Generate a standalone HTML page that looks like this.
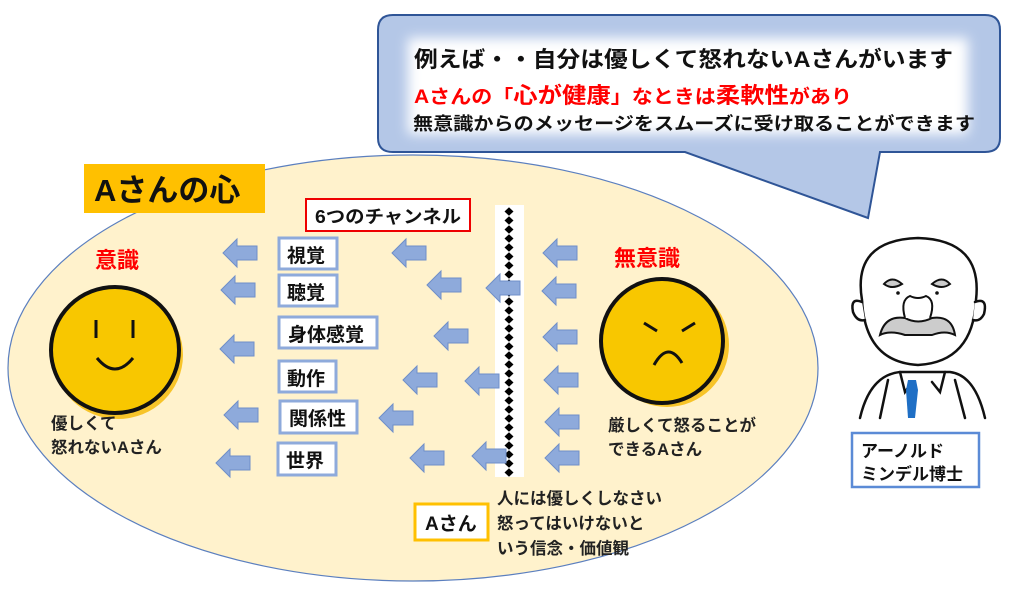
<!DOCTYPE html>
<html><head><meta charset="utf-8"><style>
html,body{margin:0;padding:0;background:#fff;}
svg{display:block;}
text{font-family:"Liberation Sans","Noto Sans CJK JP",sans-serif;}
</style></head><body>
<svg width="1024" height="600" viewBox="0 0 1024 600" xmlns="http://www.w3.org/2000/svg">
<defs>
<pattern id="dia" x="494" y="207" width="30" height="9" patternUnits="userSpaceOnUse">
<polygon points="15,0.3 19.5,4.5 15,8.7 10.5,4.5" fill="#000"/>
</pattern>
<filter id="blur" x="-10%" y="-30%" width="120%" height="160%"><feGaussianBlur stdDeviation="6"/></filter>
<path id="ar" d="M0,0 L14,-14 L14,-7 L34,-7 L34,7 L14,7 L14,14 Z" fill="#8eaadb" stroke="#6f8fc8" stroke-width="1"/>
</defs>

<ellipse cx="413" cy="368" rx="405" ry="213" fill="#fff2cc" stroke="#5b7fbf" stroke-width="1.2"/>

<path d="M393,15 H985 Q1000,15 1000,30 V138 Q1000,152 985,152 H880 L868,218 L685,152 H393 Q378,152 378,138 V30 Q378,15 393,15 Z" fill="#b4c7e7" stroke="#2f5597" stroke-width="2"/>
<rect x="408" y="38" width="560" height="96" fill="#fff" filter="url(#blur)"/>
<text x="414" y="67" font-size="22" font-weight="bold" fill="#111" textLength="539" lengthAdjust="spacingAndGlyphs">例えば・・自分は優しくて怒れないAさんがいます</text>
<text x="414" y="103" font-size="19" font-weight="bold" fill="#ff0000" textLength="438" lengthAdjust="spacingAndGlyphs">Aさんの「<tspan font-size="22">心が健康</tspan>」なときは<tspan font-size="22">柔軟性</tspan>があり</text>
<text x="413" y="130" font-size="18" font-weight="bold" fill="#111" textLength="562" lengthAdjust="spacingAndGlyphs">無意識からのメッセージをスムーズに受け取ることができます</text>

<rect x="84" y="164" width="181" height="49" fill="#ffc000"/>
<text x="94" y="201" font-size="31" font-weight="bold" fill="#111">Aさんの心</text>

<rect x="306" y="199" width="164" height="32" fill="#fff" stroke="#e00" stroke-width="2"/>
<text x="315" y="223" font-size="18" font-weight="bold" fill="#111" textLength="146" lengthAdjust="spacingAndGlyphs">6つのチャンネル</text>

<rect x="495" y="205" width="29" height="272" fill="#fff"/>
<rect x="495" y="207" width="29" height="270" fill="url(#dia)"/>

<g fill="#fff" stroke="#8eaadb" stroke-width="3">
<rect x="279" y="238" width="58" height="31"/>
<rect x="279" y="275" width="58" height="31"/>
<rect x="279" y="317" width="98" height="31"/>
<rect x="279" y="361" width="57" height="31"/>
<rect x="280" y="401" width="77" height="32"/>
<rect x="278" y="443" width="58" height="32"/>
</g>
<g font-size="19" font-weight="bold" fill="#111">
<text x="287" y="262">視覚</text>
<text x="287" y="299">聴覚</text>
<text x="288" y="341">身体感覚</text>
<text x="287" y="385">動作</text>
<text x="289" y="425">関係性</text>
<text x="286" y="467">世界</text>
</g>

<use href="#ar" x="223" y="253"/>
<use href="#ar" x="221" y="290"/>
<use href="#ar" x="220" y="349"/>
<use href="#ar" x="224" y="415"/>
<use href="#ar" x="216" y="463"/>

<use href="#ar" x="392" y="253"/>
<use href="#ar" x="427" y="285"/>
<use href="#ar" x="434" y="336"/>
<use href="#ar" x="403" y="380"/>
<use href="#ar" x="379" y="418"/>
<use href="#ar" x="410" y="458"/>

<use href="#ar" x="486" y="288"/>
<use href="#ar" x="465" y="381"/>
<use href="#ar" x="472" y="456"/>

<use href="#ar" x="543" y="253"/>
<use href="#ar" x="542" y="291"/>
<use href="#ar" x="543" y="337"/>
<use href="#ar" x="544" y="380"/>
<use href="#ar" x="545" y="422"/>
<use href="#ar" x="545" y="458"/>

<text x="95" y="268" font-size="22" font-weight="bold" fill="#ff0000">意識</text>
<text x="614" y="266" font-size="22" font-weight="bold" fill="#ff0000">無意識</text>

<ellipse cx="118" cy="355" rx="65" ry="64" fill="#f5b800" opacity="0.8"/>
<ellipse cx="115" cy="350" rx="64" ry="63" fill="#f8c700" stroke="#111" stroke-width="4"/>
<line x1="96" y1="320" x2="96" y2="338" stroke="#111" stroke-width="3"/>
<line x1="133" y1="320" x2="133" y2="338" stroke="#111" stroke-width="3"/>
<path d="M97,358 Q115,380 133,358" fill="none" stroke="#111" stroke-width="3"/>

<ellipse cx="667" cy="345" rx="62" ry="62" fill="#f5b800" opacity="0.8"/>
<ellipse cx="662" cy="341" rx="61" ry="62" fill="#f8c700" stroke="#111" stroke-width="4"/>
<path d="M644,323 L657,331 M695,323 L682,331" stroke="#111" stroke-width="3" fill="none"/>
<path d="M654,365 Q668,340 682,363" stroke="#111" stroke-width="3" fill="none"/>

<g font-size="16.5" font-weight="bold" fill="#222">
<text x="51" y="429">優しくて</text>
<text x="51" y="453">怒れないAさん</text>
<text x="608" y="431">厳しくて怒ることが</text>
<text x="608" y="455">できるAさん</text>
<text x="497" y="504">人には優しくしなさい</text>
<text x="497" y="529">怒ってはいけないと</text>
<text x="497" y="554">いう信念・価値観</text>
</g>
<rect x="415" y="504" width="73" height="36" fill="#fff" stroke="#ffc000" stroke-width="3"/>
<text x="425" y="530" font-size="19" font-weight="bold" fill="#111">Aさん</text>

<g stroke="#111" stroke-width="2.5" fill="#fff" stroke-linecap="round">
<path d="M860,418 Q870,375 900,372 L950,372 Q975,375 985,418" />
<path d="M862,300 Q852,240 918,238 Q983,240 976,300 Q973,362 918,365 Q865,362 862,300 Z"/>
<path d="M862,302 Q850,297 853,312 Q857,322 865,320"/>
<path d="M975,302 Q988,297 984,314 Q980,322 973,320"/>
<path d="M900,372 L905,392 L912,382 M945,372 L940,392 L932,382" fill="none"/>
<path d="M888,380 L880,418 M955,380 L965,418" fill="none"/>
</g>
<path d="M884,284 Q892,275 902,284 Q892,290 884,284 Z" fill="#ccc" stroke="#111" stroke-width="2"/>
<path d="M932,284 Q942,275 950,284 Q942,290 932,284 Z" fill="#ccc" stroke="#111" stroke-width="2"/>
<path d="M880,335 Q885,315 905,318 Q918,325 932,318 Q952,315 955,335 Q945,330 932,335 L905,335 Q890,330 880,335 Z" fill="#ccc" stroke="#111" stroke-width="2"/>
<path d="M905,318 Q900,300 910,296 Q918,300 926,296 Q936,300 930,318" fill="#fff" stroke="#111" stroke-width="2"/>
<circle cx="898" cy="293" r="1.8" fill="#111"/><circle cx="937" cy="293" r="1.8" fill="#111"/>
<path d="M908,380 L916,380 L918,390 L915,418 L908,418 L906,390 Z" fill="#1f6fc5"/>
<rect x="852" y="433" width="127" height="54" fill="#fff" stroke="#5b8bd6" stroke-width="2.5"/>
<text x="861" y="457" font-size="17" font-weight="bold" fill="#111">アーノルド</text>
<text x="861" y="480" font-size="17" font-weight="bold" fill="#111">ミンデル博士</text>
</svg>
</body></html>
